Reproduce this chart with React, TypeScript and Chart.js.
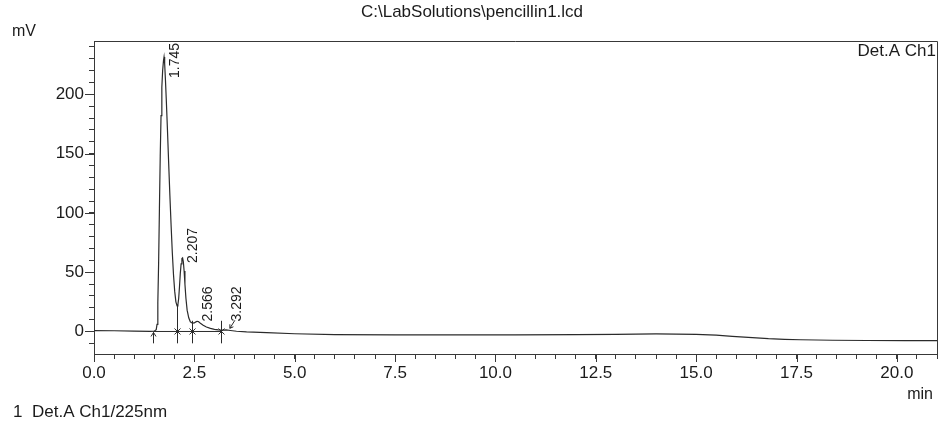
import { useEffect, useRef } from 'react';
import { Chart, registerables } from 'chart.js';

Chart.register(...registerables);

// Detector trace: retention time (min) and signal (mV)
const traceTimes = [
  0, 0.5, 1.0, 1.4, 1.5, 1.55, 1.57, 1.59, 1.61, 1.63,
  1.65, 1.67, 1.69, 1.71, 1.73, 1.745, 1.76, 1.78, 1.80, 1.83,
  1.86, 1.89, 1.92, 1.95, 1.98, 2.01, 2.04, 2.07, 2.09, 2.11,
  2.13, 2.15, 2.17, 2.19, 2.207, 2.225, 2.245, 2.265, 2.29, 2.32,
  2.36, 2.40, 2.45, 2.50, 2.53, 2.566, 2.60, 2.65, 2.72, 2.80,
  2.90, 3.00, 3.10, 3.20, 3.292, 3.40, 3.55, 3.8, 4.3, 5.0,
  6.0, 7.5, 9.0, 10.5, 12.0, 13.0, 14.0, 15.0, 15.5, 15.9,
  16.3, 16.8, 17.2, 17.6, 18.4, 19.25, 20.2, 21.0,
];
const traceSignal = [
  0.8, 0.6, 0.3, 0.1, 0.2, 1.5, 6, 24, 58, 104,
  148, 182, 206, 220, 228, 231.5, 226, 212, 196, 170,
  142, 115, 90, 67, 48, 34, 25, 21.5, 22.5, 28,
  38, 49, 57, 61.5, 62, 59, 51, 40, 28, 18,
  11.5, 8.2, 7, 7.2, 7.9, 8.6, 8.3, 7, 5.3, 3.8,
  2.6, 1.8, 1.3, 1.1, 1.3, 0.8, 0.2, -0.4, -0.9, -1.9,
  -2.6, -2.8, -2.8, -2.8, -2.7, -2.4, -2.1, -2.4, -3.1, -4.1,
  -5.0, -6.1, -6.6, -7.0, -7.4, -7.6, -7.7, -7.8,
];

// Detected peaks (retention time, apex height)
const peakTimes = [1.745, 2.207, 2.566, 3.292];
const peakHeights = [231.5, 62, 8.6, 1.3];

// Integration marks: start arrow, then peak separators
const markerTimes = [1.48, 2.07, 2.45, 3.17];
const markerTops = [0, 21.5, 9, 9];
const markerKinds = ['start', 'cross', 'cross', 'cross'];
const markerFloor = -10;
const endMarkTime = 3.36;
const endMarkLevel = 1;

// Integration baseline
const baselineTimes = [1.48, 3.17];
const baselineSignal = [0, 0];

// Axes
const timeRange = [0, 21];
const signalRange = [-19, 245];
const timeStep = 0.5;
const timeLabelStep = 2.5;
const signalStep = 10;
const signalLabelStep = 50;

// Texts
const fileTitle = 'C:\\LabSolutions\\pencillin1.lcd';
const yUnit = 'mV';
const xUnit = 'min';
const channelName = 'Det.A Ch1';
const legendIndex = '1';
const legendText = 'Det.A Ch1/225nm';

const FONT = "'Liberation Sans', Arial, Helvetica, sans-serif";
const INK = '#1b1b1b';
const LINE = '#383838';

const isMajor = (v: number, step: number) =>
  Math.abs(v / step - Math.round(v / step)) < 1e-6;

const decorPlugin = {
  id: 'chromDecor',
  afterDraw(chart: any) {
    const { ctx, chartArea: a, scales } = chart;
    const xs = scales.x;
    const ys = scales.y;
    ctx.save();
    ctx.strokeStyle = LINE;
    ctx.lineWidth = 1;

    // top and right frame lines
    ctx.beginPath();
    ctx.moveTo(a.left, Math.round(a.top) + 0.5);
    ctx.lineTo(Math.round(a.right) + 0.5, Math.round(a.top) + 0.5);
    ctx.lineTo(Math.round(a.right) + 0.5, a.bottom);
    ctx.stroke();

    // longer ticks at labelled values
    ctx.beginPath();
    for (const t of xs.ticks) {
      if (!isMajor(t.value, timeLabelStep)) continue;
      const px = Math.round(xs.getPixelForValue(t.value)) + 0.5;
      ctx.moveTo(px, a.bottom);
      ctx.lineTo(px, a.bottom + 8);
    }
    for (const t of ys.ticks) {
      if (!isMajor(t.value, signalLabelStep)) continue;
      const py = Math.round(ys.getPixelForValue(t.value)) + 0.5;
      ctx.moveTo(a.left, py);
      ctx.lineTo(a.left - 9, py);
    }
    ctx.stroke();

    // integration marks
    const zeroY = ys.getPixelForValue(0);
    const floorY = ys.getPixelForValue(markerFloor);
    ctx.strokeStyle = '#2a2a2a';
    ctx.beginPath();
    markerTimes.forEach((t, i) => {
      const px = Math.round(xs.getPixelForValue(t)) + 0.5;
      if (markerKinds[i] === 'start') {
        ctx.moveTo(px, zeroY + 1);
        ctx.lineTo(px, floorY);
        ctx.moveTo(px - 2.5, zeroY + 5);
        ctx.lineTo(px, zeroY + 1);
        ctx.lineTo(px + 2.5, zeroY + 5);
      } else {
        const topY = ys.getPixelForValue(markerTops[i]);
        ctx.moveTo(px, topY);
        ctx.lineTo(px, floorY);
        ctx.moveTo(px - 3, zeroY - 3);
        ctx.lineTo(px + 3, zeroY + 3);
        ctx.moveTo(px - 3, zeroY + 3);
        ctx.lineTo(px + 3, zeroY - 3);
      }
    });
    const ex = xs.getPixelForValue(endMarkTime);
    const ey = ys.getPixelForValue(endMarkLevel);
    ctx.moveTo(ex + 6, ey - 10);
    ctx.lineTo(ex + 1, ey - 2);
    ctx.moveTo(ex + 1, ey - 6);
    ctx.lineTo(ex + 1, ey - 2);
    ctx.lineTo(ex + 4.5, ey - 3.5);
    ctx.stroke();

    // retention-time labels beside each apex
    ctx.fillStyle = INK;
    ctx.font = `14px ${FONT}`;
    peakTimes.forEach((t, i) => {
      const label = t.toFixed(3);
      const w = ctx.measureText(label).width;
      const px = xs.getPixelForValue(t) + 11;
      const apexY = ys.getPixelForValue(peakHeights[i]);
      let bottom = Math.min(apexY + 5, zeroY - 10);
      bottom = Math.max(bottom, a.top + 2 + w);
      ctx.save();
      ctx.translate(px, bottom);
      ctx.rotate(-Math.PI / 2);
      ctx.textAlign = 'left';
      ctx.textBaseline = 'middle';
      ctx.fillText(label, 0, 0);
      ctx.restore();
    });

    // page texts
    ctx.textBaseline = 'middle';
    ctx.font = `17px ${FONT}`;
    ctx.textAlign = 'center';
    ctx.fillText(fileTitle, 472, 12);
    ctx.textAlign = 'left';
    ctx.font = `16px ${FONT}`;
    ctx.fillText(yUnit, 12, 32);
    ctx.textAlign = 'right';
    ctx.font = `17px ${FONT}`;
    ctx.fillText(channelName, a.right - 1, 51);
    ctx.font = `16px ${FONT}`;
    ctx.fillText(xUnit, 933, 395);
    ctx.textAlign = 'left';
    ctx.font = `17px ${FONT}`;
    ctx.fillText(legendIndex, 13, 412);
    ctx.fillText(legendText, 32, 412);
    ctx.restore();
  },
};

export default function App() {
  const canvasRef = useRef<HTMLCanvasElement | null>(null);

  useEffect(() => {
    const canvas = canvasRef.current;
    if (!canvas) return;
    const chart = new Chart(canvas, {
      type: 'line',
      data: {
        datasets: [
          {
            data: traceTimes.map((t, i) => ({ x: t, y: traceSignal[i] })),
            borderColor: '#2b2b2b',
            borderWidth: 1.2,
            pointRadius: 0,
            tension: 0,
            fill: false,
          },
          {
            data: baselineTimes.map((t, i) => ({ x: t, y: baselineSignal[i] })),
            borderColor: '#2b2b2b',
            borderWidth: 1,
            pointRadius: 0,
            tension: 0,
            fill: false,
          },
        ],
      },
      options: {
        responsive: false,
        animation: false,
        devicePixelRatio: 1,
        layout: { padding: { top: 41, right: 4, left: 0, bottom: 0 } },
        plugins: {
          legend: { display: false },
          tooltip: { enabled: false },
          title: { display: false },
        },
        scales: {
          x: {
            type: 'linear',
            min: timeRange[0],
            max: timeRange[1],
            afterFit: (s: any) => {
              s.height = 71;
            },
            ticks: {
              stepSize: timeStep,
              includeBounds: false,
              autoSkip: false,
              maxRotation: 0,
              minRotation: 0,
              padding: 4,
              color: INK,
              font: { family: FONT, size: 17 },
              callback: (v: any) =>
                isMajor(Number(v), timeLabelStep) ? Number(v).toFixed(1) : '',
            },
            grid: {
              display: true,
              drawOnChartArea: false,
              drawTicks: true,
              tickLength: 5,
              color: LINE,
            },
            border: { display: true, color: LINE, width: 1 },
          },
          y: {
            type: 'linear',
            min: signalRange[0],
            max: signalRange[1],
            afterFit: (s: any) => {
              s.width = 94;
            },
            ticks: {
              stepSize: signalStep,
              includeBounds: false,
              autoSkip: false,
              padding: 5,
              color: INK,
              font: { family: FONT, size: 17 },
              callback: (v: any) =>
                isMajor(Number(v), signalLabelStep) ? String(Number(v)) : '',
            },
            grid: {
              display: true,
              drawOnChartArea: false,
              drawTicks: true,
              tickLength: 5,
              color: LINE,
            },
            border: { display: true, color: LINE, width: 1 },
          },
        },
      },
      plugins: [decorPlugin],
    } as any);
    return () => chart.destroy();
  }, []);

  return (
    <div
      style={{
        position: 'fixed',
        left: 0,
        top: 0,
        width: 941,
        height: 425,
        background: '#ffffff',
      }}
    >
      <canvas
        ref={canvasRef}
        width={941}
        height={425}
        style={{ display: 'block', width: 941, height: 425 }}
      />
    </div>
  );
}
